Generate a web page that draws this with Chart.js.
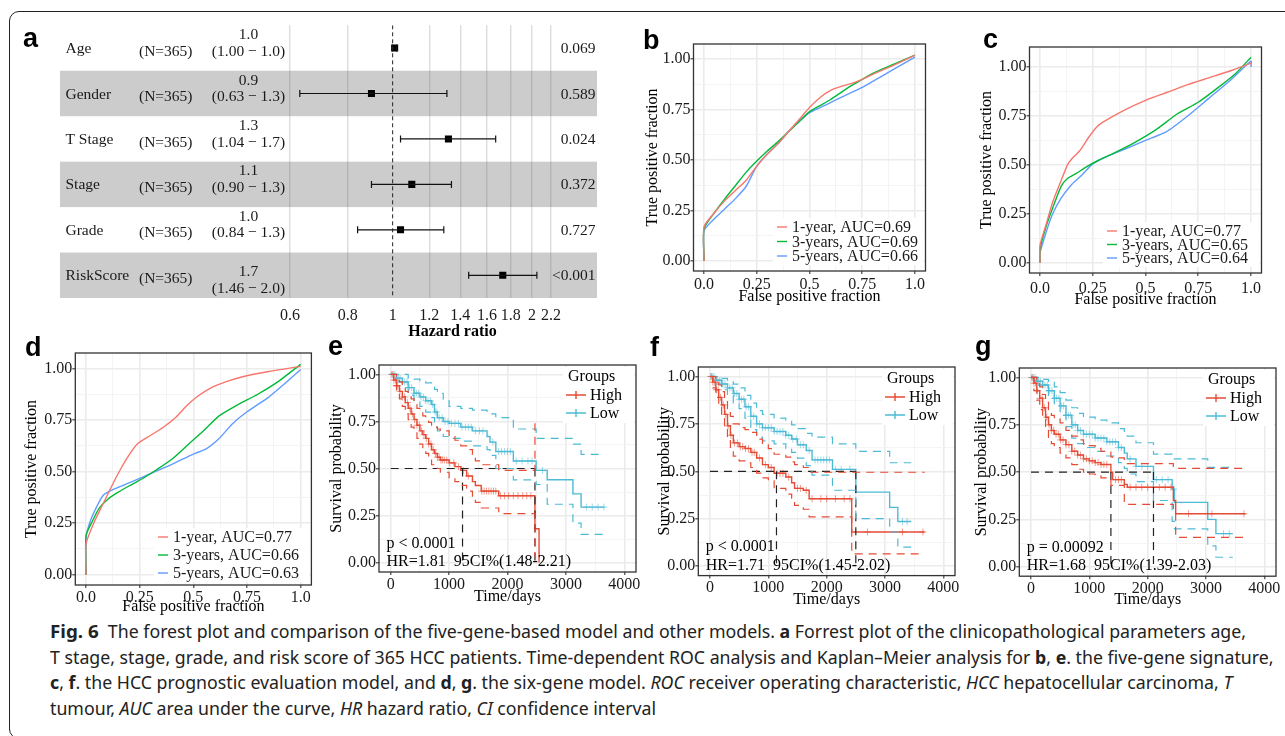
<!DOCTYPE html>
<html>
<head>
<meta charset="utf-8">
<script src="https://cdn.jsdelivr.net/npm/chart.js@4.4.1/dist/chart.umd.min.js"></script>
<style>
  body { margin: 0; background: #fff; width: 1285px; height: 736px; overflow: hidden; position: relative; }
  canvas { position: absolute; }
  #frame { position: absolute; left: 9px; top: 11px; width: 1330px; height: 728px; box-sizing: border-box;
           border: 1.3px solid #222; border-radius: 10px; }
  #cap { position: absolute; left: 50px; top: 618px; font-family: "Noto Sans", "Open Sans", sans-serif;
         font-size: 17.5px; line-height: 25.5px; color: #222; transform-origin: 0 0; white-space: nowrap; }
  #cap div { width: max-content; }
  #cap b.fig { font-size: 18.5px; }
</style>
</head>
<body>
<div id="frame"></div>
<div id="cap">
  <div><b class="fig">Fig. 6</b>&nbsp; The forest plot and comparison of the five-gene-based model and other models. <b>a</b> Forrest plot of the clinicopathological parameters age,</div>
  <div>T stage, stage, grade, and risk score of 365 HCC patients. Time-dependent ROC analysis and Kaplan–Meier analysis for <b>b</b>, <b>e</b>. the five-gene signature,</div>
  <div><b>c</b>, <b>f</b>. the HCC prognostic evaluation model, and <b>d</b>, <b>g</b>. the six-gene model. <i>ROC</i> receiver operating characteristic, <i>HCC</i> hepatocellular carcinoma, <i>T</i></div>
  <div>tumour, <i>AUC</i> area under the curve, <i>HR</i> hazard ratio, <i>CI</i> confidence interval</div>
</div>
<script>
// ---------- panel a: forest plot
const rowNames = ['Age', 'Gender', 'T Stage', 'Stage', 'Grade', 'RiskScore'];
const rowN = ['(N=365)', '(N=365)', '(N=365)', '(N=365)', '(N=365)', '(N=365)'];
const hrText = ['1.0', '0.9', '1.3', '1.1', '1.0', '1.7'];
const ciText = ['(1.00 \u2212 1.0)', '(0.63 \u2212 1.3)', '(1.04 \u2212 1.7)', '(0.90 \u2212 1.3)', '(0.84 \u2212 1.3)', '(1.46 \u2212 2.0)'];
const pText = ['0.069', '0.589', '0.024', '0.372', '0.727', '<0.001'];
const hrEst = [1.01, 0.90, 1.32, 1.10, 1.04, 1.73];
const hrLow = [1.00, 0.63, 1.04, 0.90, 0.84, 1.46];
const hrHigh = [1.02, 1.31, 1.67, 1.34, 1.29, 2.05];
const hrTicks = [0.6, 0.8, 1, 1.2, 1.4, 1.6, 1.8, 2, 2.2];

// ---------- ROC curves [fpr, tpr]
const rocColors = ['#F8766D', '#00BA38', '#619CFF'];
const rocB1 = [[0,0],[0,0.17],[0.05,0.24],[0.1,0.30],[0.15,0.35],[0.2,0.40],[0.25,0.47],[0.3,0.53],[0.35,0.58],[0.4,0.64],[0.45,0.70],[0.5,0.76],[0.55,0.81],[0.6,0.845],[0.65,0.865],[0.7,0.88],[0.75,0.90],[0.8,0.925],[0.9,0.97],[1,1.02]];
const rocB3 = [[0,0],[0,0.16],[0.05,0.24],[0.1,0.31],[0.15,0.375],[0.2,0.44],[0.25,0.495],[0.3,0.545],[0.35,0.59],[0.4,0.64],[0.45,0.69],[0.5,0.74],[0.55,0.77],[0.6,0.80],[0.65,0.835],[0.7,0.87],[0.75,0.90],[0.8,0.93],[0.9,0.975],[1,1.02]];
const rocB5 = [[0,0],[0,0.15],[0.05,0.21],[0.1,0.26],[0.15,0.31],[0.2,0.37],[0.25,0.47],[0.3,0.53],[0.35,0.58],[0.4,0.64],[0.45,0.69],[0.5,0.735],[0.55,0.76],[0.6,0.785],[0.65,0.81],[0.7,0.835],[0.75,0.86],[0.8,0.89],[0.9,0.95],[1,1.01]];
const rocBLabels = ['1-year, AUC=0.69', '3-years, AUC=0.69', '5-years, AUC=0.66'];

const rocC1 = [[0,0],[0,0.09],[0.03,0.2],[0.06,0.31],[0.1,0.42],[0.13,0.5],[0.15,0.53],[0.19,0.575],[0.23,0.64],[0.27,0.695],[0.3,0.72],[0.4,0.78],[0.5,0.83],[0.6,0.87],[0.7,0.91],[0.8,0.945],[0.9,0.98],[1,1.02]];
const rocC3 = [[0,0],[0,0.07],[0.03,0.19],[0.06,0.28],[0.1,0.39],[0.13,0.43],[0.17,0.455],[0.22,0.49],[0.28,0.525],[0.35,0.56],[0.45,0.615],[0.55,0.68],[0.65,0.76],[0.75,0.82],[0.85,0.9],[0.93,0.97],[1,1.05]];
const rocC5 = [[0,0],[0,0.05],[0.03,0.16],[0.06,0.25],[0.1,0.33],[0.15,0.40],[0.2,0.45],[0.25,0.505],[0.3,0.535],[0.4,0.58],[0.5,0.625],[0.6,0.67],[0.7,0.75],[0.8,0.84],[0.9,0.93],[1,1.03],[1,1.0]];
const rocCLabels = ['1-year, AUC=0.77', '3-years, AUC=0.65', '5-years, AUC=0.64'];

const rocD1 = [[0,0],[0,0.15],[0.04,0.26],[0.08,0.345],[0.12,0.43],[0.16,0.51],[0.2,0.58],[0.24,0.635],[0.3,0.675],[0.36,0.715],[0.42,0.765],[0.47,0.82],[0.52,0.865],[0.58,0.905],[0.65,0.935],[0.73,0.96],[0.85,0.985],[1,1.01]];
const rocD3 = [[0,0],[0,0.19],[0.03,0.26],[0.06,0.32],[0.1,0.365],[0.15,0.40],[0.2,0.43],[0.27,0.47],[0.33,0.51],[0.4,0.56],[0.48,0.635],[0.55,0.70],[0.62,0.77],[0.7,0.82],[0.8,0.875],[0.9,0.94],[1,1.02]];
const rocD5 = [[0,0],[0,0.18],[0.02,0.26],[0.05,0.33],[0.08,0.385],[0.12,0.41],[0.2,0.445],[0.3,0.49],[0.4,0.535],[0.5,0.585],[0.56,0.61],[0.62,0.66],[0.68,0.73],[0.75,0.79],[0.85,0.86],[0.93,0.93],[1,0.995]];
const rocDLabels = ['1-year, AUC=0.77', '3-years, AUC=0.66', '5-years, AUC=0.63'];

const rocGrid = [0, 0.125, 0.25, 0.375, 0.5, 0.625, 0.75, 0.875, 1];
const rocMajor = [0, 0.25, 0.5, 0.75, 1];
const rocXLabels = ['0.0', '0.25', '0.5', '0.75', '1.0'];
const rocYLabels = ['0.00', '0.25', '0.50', '0.75', '1.00'];

// ---------- Kaplan-Meier: rows of [time, survival, lower CI, upper CI]
const groupNames = ['High', 'Low'];
const KM_HIGH = '#E64B35', KM_LOW = '#4DBBD5';

const eHigh = [[0,1,1,1],[50,0.97,0.94,1.0],[100,0.94,0.90,0.98],[150,0.91,0.87,0.96],[200,0.88,0.83,0.93],[250,0.85,0.79,0.91],[300,0.82,0.76,0.89],[350,0.79,0.72,0.87],[400,0.76,0.69,0.84],[450,0.73,0.66,0.82],[500,0.70,0.63,0.80],[550,0.68,0.60,0.78],[600,0.66,0.58,0.76],[650,0.63,0.55,0.745],[700,0.60,0.52,0.73],[750,0.58,0.51,0.72],[800,0.56,0.50,0.71],[850,0.545,0.48,0.70],[1000,0.53,0.45,0.67],[1100,0.51,0.43,0.65],[1200,0.49,0.41,0.62],[1300,0.46,0.38,0.60],[1400,0.43,0.345,0.57],[1450,0.41,0.32,0.54],[1550,0.38,0.29,0.52],[1850,0.355,0.26,0.49],[2470,0.18,0.03,0.74],[2540,0,null,null]];
const eLow = [[0,1,1,1],[100,0.98,0.96,1.0],[200,0.96,0.93,1.0],[300,0.93,0.89,0.98],[400,0.90,0.86,0.975],[500,0.88,0.83,0.965],[600,0.86,0.80,0.955],[700,0.84,0.77,0.945],[750,0.80,0.72,0.92],[800,0.77,0.70,0.90],[900,0.75,0.67,0.86],[1000,0.74,0.66,0.83],[1200,0.72,0.645,0.82],[1400,0.70,0.62,0.81],[1650,0.67,0.60,0.80],[1700,0.64,0.57,0.79],[1800,0.59,0.50,0.77],[2100,0.54,0.44,0.71],[2490,0.49,0.415,0.66],[2680,0.44,0.31,0.66],[3120,0.365,0.21,0.63],[3260,0.295,0.15,0.575],[3660,0.295,0.15,0.575]];
const eCensHigh = [25,55,85,120,160,200,240,290,330,370,410,450,490,530,570,610,650,690,730,770,800,830,860,890,920,960,1010,1080,1160,1240,1330,1560,1600,1640,1680,1720,1760,1800,1880,1950,2020,2100,2180,2260,2330,2400];
const eCensLow = [20,45,70,100,130,160,200,240,280,320,360,400,440,480,520,560,600,640,680,720,760,790,830,880,930,980,1040,1100,1160,1220,1280,1330,1380,1450,1520,1580,1750,1850,1900,1950,2000,2050,2150,2250,2350,2420,2600,3350,3450,3550,3650];
const eMedian = [1230, 2470];

const fHigh = [[0,1,1,1],[50,0.97,0.94,1.0],[100,0.93,0.89,0.98],[150,0.89,0.84,0.955],[200,0.85,0.79,0.92],[250,0.80,0.74,0.885],[300,0.74,0.67,0.83],[350,0.69,0.62,0.79],[400,0.65,0.58,0.75],[500,0.63,0.555,0.73],[600,0.62,0.545,0.72],[700,0.60,0.52,0.705],[800,0.57,0.49,0.67],[900,0.535,0.465,0.64],[1000,0.52,0.45,0.62],[1100,0.49,0.41,0.59],[1300,0.47,0.38,0.575],[1400,0.44,0.34,0.55],[1450,0.41,0.32,0.535],[1600,0.40,0.30,0.52],[1700,0.355,0.26,0.495],[2430,0.18,0.065,0.495],[3680,0.18,0.065,0.495]];
const fLow = [[0,1,1,1],[100,0.98,0.96,1.0],[200,0.96,0.93,0.99],[300,0.94,0.90,0.98],[400,0.91,0.86,0.96],[500,0.88,0.83,0.94],[600,0.84,0.78,0.90],[700,0.79,0.72,0.86],[800,0.75,0.68,0.82],[900,0.73,0.66,0.80],[1100,0.71,0.645,0.78],[1300,0.69,0.62,0.765],[1400,0.67,0.60,0.745],[1500,0.64,0.57,0.725],[1650,0.61,0.53,0.70],[1750,0.56,0.48,0.68],[2100,0.51,0.40,0.645],[2500,0.39,0.25,0.605],[3080,0.31,0.18,0.545],[3220,0.235,0.10,0.545],[3450,0.235,0.10,0.545]];
const fCensHigh = [20,50,80,110,140,180,230,270,310,360,420,470,520,560,610,660,720,760,850,950,1050,1150,1200,1250,1350,1500,1550,1650,1750,1900,2000,2150,2300,2400,2700,3300,3650];
const fCensLow = [15,40,70,100,130,160,190,220,260,300,340,380,420,460,500,540,580,620,660,700,750,800,850,900,950,1000,1050,1100,1150,1200,1250,1300,1350,1420,1480,1550,1600,1700,1800,1850,1900,1950,2000,2050,2150,2250,2400,3300,3380];
const fMedian = [1140, 2500];

const gHigh = [[0,1,1,1],[50,0.97,0.93,1.0],[100,0.93,0.88,0.98],[150,0.89,0.83,0.95],[200,0.84,0.78,0.91],[250,0.79,0.72,0.87],[300,0.75,0.68,0.83],[350,0.72,0.65,0.80],[400,0.70,0.63,0.78],[500,0.67,0.60,0.76],[600,0.645,0.575,0.72],[700,0.61,0.54,0.69],[800,0.59,0.515,0.67],[900,0.57,0.50,0.65],[1000,0.56,0.49,0.64],[1100,0.55,0.48,0.625],[1200,0.54,0.47,0.61],[1370,0.50,0.43,0.58],[1400,0.46,0.43,0.575],[1600,0.435,0.34,0.56],[1650,0.42,0.33,0.545],[2440,0.35,0.29,0.53],[2480,0.28,0.155,0.52],[3680,0.28,0.155,0.52]];
const gLow = [[0,1,1,1],[100,0.98,0.96,1.0],[200,0.96,0.93,0.99],[300,0.93,0.89,0.975],[400,0.89,0.85,0.95],[500,0.85,0.80,0.92],[600,0.80,0.74,0.88],[700,0.75,0.68,0.84],[800,0.72,0.65,0.81],[900,0.70,0.63,0.79],[1100,0.68,0.61,0.775],[1300,0.66,0.585,0.76],[1500,0.63,0.55,0.73],[1600,0.60,0.52,0.71],[1650,0.57,0.49,0.69],[1800,0.53,0.45,0.655],[2100,0.46,0.35,0.595],[2420,0.41,0.24,0.57],[2460,0.34,0.20,0.57],[3030,0.25,0.11,0.525],[3170,0.175,0.05,0.525],[3460,0.175,0.05,0.525]];
const gCensHigh = [20,50,80,110,150,190,230,270,310,350,390,430,470,510,550,600,650,700,750,800,850,900,950,1000,1050,1100,1150,1200,1250,1300,1450,1500,1550,1700,1800,1900,2000,2100,2200,2300,2400,2700,3100,3650];
const gCensLow = [15,40,70,100,130,160,200,240,280,320,360,400,440,480,520,560,600,640,680,720,760,800,850,900,950,1000,1050,1100,1150,1200,1250,1300,1350,1400,1450,1500,1550,1700,1800,1900,2000,2150,2250,2350,2450,3300,3400];
const gMedian = [1370, 2100];

const kmXGrid = [0, 500, 1000, 1500, 2000, 2500, 3000, 3500, 4000];
const kmXMajor = [0, 1000, 2000, 3000, 4000];
const kmXLabels = ['0', '1000', '2000', '3000', '4000'];

const SERIF = '"Liberation Serif", "Times New Roman", serif';
Chart.defaults.font.family = SERIF;
Chart.defaults.color = '#1a1a1a';
const quiet = { legend: { display: false }, tooltip: { enabled: false } };

function mkCanvas(l, t, w, h) {
  const c = document.createElement('canvas');
  c.width = Math.round(w); c.height = Math.round(h);
  c.style.left = l + 'px'; c.style.top = t + 'px';
  document.body.appendChild(c);
  return c;
}

// canvas box from plot frame + axis title centres (page px)
function geom(p) {
  const cl = Math.round(p.yTitleX - 8), ct = Math.round(p.T - 3);
  const cr = Math.round(p.R + 4), cb = Math.round(p.xTitleY + 8);
  return { cl, ct, w: cr - cl, h: cb - ct, yw: p.L - cl, xh: cb - p.B, pt: p.T - ct, pr: cr - p.R };
}

function linAxis(pos, min, max, gridVals, majorVals, majorLabels, title, size, tickPad) {
  const major = c => c.tick && majorVals.indexOf(c.tick.value) >= 0;
  return {
    type: 'linear', position: pos, min, max,
    afterBuildTicks: s => { s.ticks = gridVals.map(v => ({ value: v })); },
    afterFit: s => {
      if (pos === 'left') { s.width = size; s.paddingTop = 0; s.paddingBottom = 0; }
      else { s.height = size; s.paddingLeft = 0; s.paddingRight = 0; }
    },
    ticks: {
      autoSkip: false, maxRotation: 0, padding: tickPad, font: { size: 16 }, color: '#1a1a1a',
      callback: v => { const i = majorVals.indexOf(v); return i >= 0 ? majorLabels[i] : ''; }
    },
    grid: {
      color: c => major(c) ? '#EBEBEB' : '#F3F3F3',
      lineWidth: c => major(c) ? 1.6 : 0.9,
      tickColor: c => major(c) ? '#333' : 'rgba(0,0,0,0)',
      tickLength: 3, tickWidth: 1.1
    },
    border: { display: false },
    title: { display: true, text: title, font: { size: 16, lineHeight: 1 }, padding: 0, color: '#000' }
  };
}

const framePlugin = { id: 'frame', afterDraw(chart) {
  const { ctx, chartArea: a } = chart;
  ctx.save(); ctx.strokeStyle = '#333'; ctx.lineWidth = 1.3;
  ctx.strokeRect(a.left, a.top, a.right - a.left, a.bottom - a.top);
  ctx.restore();
}};

// ---------- forest plot
(function () {
  const L = 55, T = 20;
  const cv = mkCanvas(L, T, 548, 330);
  const ds = [{ data: [{ x: 1, y: -0.5 }, { x: 1, y: 5.5 }], showLine: true, borderColor: '#222', borderWidth: 1, borderDash: [4, 3], pointRadius: 0 }];
  rowNames.forEach((n, i) => ds.push({
    data: [{ x: hrLow[i], y: i }, { x: hrHigh[i], y: i }], showLine: true, borderColor: '#111', borderWidth: 1.2,
    pointStyle: 'line', pointRotation: 90, pointRadius: 3.5, pointBorderWidth: 1.2, pointBorderColor: '#111'
  }));
  ds.push({ data: hrEst.map((v, i) => ({ x: v, y: i })), pointStyle: 'rect', pointRadius: 5, pointBackgroundColor: '#000', pointBorderWidth: 0 });

  const stripes = { id: 'stripes', beforeDatasetsDraw(chart) {
    const { ctx } = chart, y = chart.scales.y;
    ctx.save(); ctx.fillStyle = 'rgba(100,100,100,0.33)';
    for (let i = 1; i < rowNames.length; i += 2) {
      const t = y.getPixelForValue(i - 0.5), b = y.getPixelForValue(i + 0.5);
      ctx.fillRect(60 - L, t, 597 - 60, b - t);
    }
    ctx.restore();
  }};
  const texts = { id: 'ftext', afterDraw(chart) {
    const { ctx } = chart, y = chart.scales.y;
    ctx.save(); ctx.fillStyle = '#1a1a1a'; ctx.textBaseline = 'middle';
    ctx.font = '15.5px ' + SERIF;
    rowNames.forEach((n, i) => {
      const cy = y.getPixelForValue(i), last = i === rowNames.length - 1;
      ctx.textAlign = 'left';
      ctx.fillText(n, 65.5 - L, cy + 1);
      ctx.fillText(rowN[i], 139 - L, cy + 3.5);
      ctx.textAlign = 'center';
      ctx.fillText(hrText[i], 248.5 - L, cy + (last ? -3 : -13));
      ctx.fillText(ciText[i], 248.5 - L, cy + (last ? 14 : 3.5));
      ctx.textAlign = 'right';
      ctx.fillText(pText[i], 595.5 - L, cy + 1);
    });
    ctx.font = 'bold 16px ' + SERIF; ctx.textAlign = 'center'; ctx.fillStyle = '#000';
    ctx.fillText('Hazard ratio', 452.5 - L, 331.7 - T);
    ctx.restore();
  }};

  new Chart(cv, {
    type: 'scatter',
    data: { datasets: ds },
    options: {
      responsive: false, animation: false, events: [],
      layout: { padding: { left: 235, right: 43, top: 5.3, bottom: 22 } },
      plugins: quiet,
      scales: {
        x: {
          type: 'logarithmic', min: 0.6, max: 2.3,
          afterBuildTicks: s => { s.ticks = hrTicks.map(v => ({ value: v })); },
          afterFit: s => { s.height = 30; s.paddingLeft = 0; s.paddingRight = 0; },
          ticks: { autoSkip: false, maxRotation: 0, padding: 8, font: { size: 16 }, color: '#1a1a1a', callback: v => String(v) },
          grid: { color: c => (c.tick && c.tick.value === 1) ? 'rgba(0,0,0,0)' : '#dcdcdc', lineWidth: 1.4, drawTicks: false },
          border: { display: false }
        },
        y: { type: 'linear', min: -0.5, max: 5.5, reverse: true, display: false }
      }
    },
    plugins: [stripes, texts]
  });
})();

// ---------- ROC panels
function rocChart(p, curves, labels) {
  const g = geom(p);
  const cv = mkCanvas(g.cl, g.ct, g.w, g.h);
  const legend = { id: 'rocLegend', afterDraw(chart) {
    const { ctx } = chart;
    const x0 = p.legX - g.cl;
    ctx.save();
    ctx.fillStyle = '#fff';
    ctx.fillRect(x0 - 4, p.legY[0] - 9 - g.ct, chart.chartArea.right - 2 - (x0 - 4), p.legY[2] - p.legY[0] + 18);
    ctx.font = '16px ' + SERIF; ctx.textBaseline = 'middle'; ctx.textAlign = 'left';
    chart.data.datasets.forEach((d, i) => {
      const yy = p.legY[i] - g.ct;
      ctx.strokeStyle = d.borderColor; ctx.lineWidth = 1.4;
      ctx.beginPath(); ctx.moveTo(x0, yy); ctx.lineTo(x0 + 10, yy); ctx.stroke();
      ctx.fillStyle = '#1a1a1a';
      ctx.fillText(d.label, x0 + 15, yy + 1);
    });
    ctx.restore();
  }};
  new Chart(cv, {
    type: 'scatter',
    data: { datasets: curves.map((c, i) => ({
      label: labels[i], data: c.map(([x, y]) => ({ x, y })), showLine: true,
      borderColor: rocColors[i], borderWidth: 1.4, pointRadius: 0, tension: 0.2
    })) },
    options: {
      responsive: false, animation: false, events: [],
      layout: { padding: { top: g.pt, right: g.pr, left: 0, bottom: 0 } },
      plugins: quiet,
      scales: {
        x: linAxis('bottom', -0.05, 1.05, rocGrid, rocMajor, rocXLabels, 'False positive fraction', g.xh, p.xPad),
        y: linAxis('left', p.yMin, p.yMax, rocGrid, rocMajor, rocYLabels, 'True positive fraction', g.yw, 0)
      }
    },
    plugins: [framePlugin, legend]
  });
}

rocChart({ L: 693.5, T: 44, R: 925.5, B: 271, yTitleX: 653, xTitleY: 296.7, xPad: 1, yMin: -0.05, yMax: 1.075,
           legX: 777, legY: [227, 241.5, 256] }, [rocB1, rocB3, rocB5], rocBLabels);
rocChart({ L: 1029.5, T: 47, R: 1261.5, B: 273, yTitleX: 986.7, xTitleY: 300, xPad: 3, yMin: -0.0525, yMax: 1.1025,
           legX: 1107, legY: [231, 244.5, 258] }, [rocC1, rocC3, rocC5], rocCLabels);
rocChart({ L: 75.3, T: 353, R: 311.4, B: 585, yTitleX: 31.7, xTitleY: 606.7, xPad: 0, yMin: -0.05, yMax: 1.075,
           legX: 158, legY: [537, 555, 573] }, [rocD1, rocD3, rocD5], rocDLabels);

// ---------- Kaplan-Meier panels
function survAt(rows, t) {
  let s = rows[0][1];
  rows.forEach(r => { if (r[0] <= t) s = r[1]; });
  return s;
}

function kmChart(p, high, low, censHigh, censLow, med, pTxt, hrTxt) {
  const g = geom(p);
  const cv = mkCanvas(g.cl, g.ct, g.w, g.h);
  const step = (rows, k, col, dashed) => ({
    data: rows.map(r => ({ x: r[0], y: r[k] })), showLine: true, stepped: true, spanGaps: false,
    borderColor: col, borderWidth: dashed ? 1.2 : 1.4, borderDash: dashed ? [8, 6] : [], pointRadius: 0
  });
  const cens = (rows, times, col) => ({
    data: times.map(t => ({ x: t, y: survAt(rows, t) })), showLine: false,
    pointStyle: 'cross', pointRadius: 3.5, pointBorderColor: col, pointBorderWidth: 1
  });
  const black = d => ({ data: d, showLine: true, borderColor: '#222', borderWidth: 1.2, borderDash: [8, 6], pointRadius: 0 });
  const ds = [
    step(high, 2, KM_HIGH, true), step(high, 3, KM_HIGH, true),
    step(low, 2, KM_LOW, true), step(low, 3, KM_LOW, true),
    black([{ x: 0, y: 0.5 }, { x: Math.max(...med), y: 0.5 }]),
    ...med.map(m => black([{ x: m, y: 0.5 }, { x: m, y: 0 }])),
    step(high, 1, KM_HIGH, false), step(low, 1, KM_LOW, false),
    cens(high, censHigh, 'rgba(230,75,53,0.55)'), cens(low, censLow, 'rgba(77,187,213,0.55)')
  ];
  const extra = { id: 'kmExtra', afterDraw(chart) {
    const { ctx, chartArea: a } = chart;
    ctx.save();
    ctx.fillStyle = '#fff';
    ctx.fillRect(a.right - 73, a.top + 2, 71, 56);
    ctx.font = '16px ' + SERIF; ctx.textBaseline = 'middle'; ctx.textAlign = 'left'; ctx.fillStyle = '#000';
    ctx.fillText('Groups', a.right - 68, a.top + 12);
    [KM_HIGH, KM_LOW].forEach((col, i) => {
      const yy = a.top + 30 + 18 * i;
      ctx.strokeStyle = col; ctx.lineWidth = 1.4;
      ctx.beginPath();
      ctx.moveTo(a.right - 70, yy); ctx.lineTo(a.right - 50, yy);
      ctx.moveTo(a.right - 60, yy - 4); ctx.lineTo(a.right - 60, yy + 4);
      ctx.stroke();
      ctx.fillStyle = '#000';
      ctx.fillText(groupNames[i], a.right - 46, yy + 1);
    });
    ctx.fillText(pTxt, a.left + 7.5, a.bottom - 28.5);
    ctx.fillText(hrTxt, a.left + 7.5, a.bottom - 10);
    ctx.restore();
  }};
  new Chart(cv, {
    type: 'scatter',
    data: { datasets: ds },
    options: {
      responsive: false, animation: false, events: [],
      layout: { padding: { top: g.pt, right: g.pr, left: 0, bottom: 0 } },
      plugins: quiet,
      scales: {
        x: linAxis('bottom', -200, 4200, kmXGrid, kmXMajor, kmXLabels, 'Time/days', g.xh, 0),
        y: linAxis('left', -0.05, 1.05, rocGrid, rocMajor, rocYLabels, 'Survival probability', g.yw, 0)
      }
    },
    plugins: [framePlugin, extra]
  });
}

kmChart({ L: 379, T: 363, R: 636.6, B: 572, yTitleX: 336.7, xTitleY: 596.7 },
        eHigh, eLow, eCensHigh, eCensLow, eMedian, 'p < 0.0001', 'HR=1.81  95CI%(1.48-2.21)');
kmChart({ L: 698.3, T: 364.7, R: 955.7, B: 575.6, yTitleX: 665, xTitleY: 600 },
        fHigh, fLow, fCensHigh, fCensLow, fMedian, 'p < 0.0001', 'HR=1.71  95CI%(1.45-2.02)');
kmChart({ L: 1019.3, T: 366, R: 1276.7, B: 576.2, yTitleX: 981.7, xTitleY: 600 },
        gHigh, gLow, gCensHigh, gCensLow, gMedian, 'p = 0.00092', 'HR=1.68  95CI%(1.39-2.03)');

// ---------- panel letters
(function () {
  const ov = mkCanvas(0, 0, 1285, 736);
  ov.style.pointerEvents = 'none';
  const ctx = ov.getContext('2d');
  ctx.font = 'bold 27px "Liberation Sans", Arial, sans-serif';
  ctx.fillStyle = '#000';
  [['a', 23, 47], ['b', 643, 49], ['c', 983, 48], ['d', 25, 356], ['e', 328, 355], ['f', 650, 356], ['g', 975, 355]]
    .forEach(([t, x, y]) => ctx.fillText(t, x, y));
})();

// ---------- caption width fit
(function () {
  const cap = document.getElementById('cap');
  const w = cap.children[0].getBoundingClientRect().width;
  cap.style.transform = 'scaleX(' + (1196 / w) + ')';
})();
</script>
</body>
</html>
